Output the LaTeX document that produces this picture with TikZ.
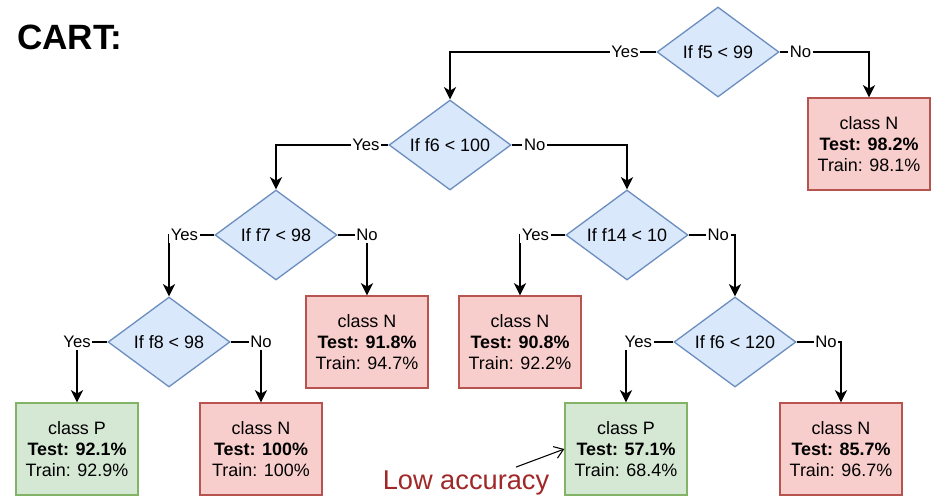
\documentclass[tikz,border=0pt]{standalone}
\usepackage{fontspec}
\setmainfont{Liberation Sans}
\usetikzlibrary{
	arrows.meta,
	shapes.geometric,
	positioning
}
\definecolor{CondBlue}{RGB}{218,232,252}
\definecolor{CondEdge}{RGB}{108,142,191}
\definecolor{LeafRed}{RGB}{248,206,204}
\definecolor{LeafRedEdge}{RGB}{184,84,80}
\definecolor{LeafGreen}{RGB}{213,232,212}
\definecolor{LeafGreenEdge}{RGB}{130,179,102}
\definecolor{LowRed}{RGB}{160,40,40}

\begin{document}
\begin{tikzpicture}[x=0.02cm,y=-0.02cm,font=\fontsize{10.2}{12}\selectfont,
		cond/.style={diamond,draw=CondEdge,fill=CondBlue,line width=0.75pt,inner sep=0pt,
			aspect=1.35,minimum width=2.44cm,minimum height=1.8cm},
		leafN/.style={rectangle,draw=LeafRedEdge,fill=LeafRed,line width=0.75pt,align=center,
			minimum width=2.44cm,minimum height=1.84cm},
		leafP/.style={leafN,draw=LeafGreenEdge,fill=LeafGreen},
		edge/.style={line width=0.75pt,-{Stealth[length=7pt,width=7pt,inset=2pt]}},
		ans/.style={fill=white,inner sep=1pt,font=\fontsize{9.5}{11}\selectfont}]
			\useasboundingbox (0,0) rectangle (936,498);
			\node[font=\fontsize{20}{24}\selectfont\bfseries,anchor=west] (title) at (11,37) {CART:};
			
			\node[cond] (f5) at (718,52) {If f5 < 99};
			\node[cond] (f6) at (450,145) {If f6 < 100};
			\node[cond] (f7) at (276,235) {If f7 < 98};
			\node[cond] (f8) at (169,342) {If f8 < 98};
			\node[cond] (f14) at (627,235) {If f14 < 10};
			\node[cond] (f6b) at (735,342) {If f6 < 120};
			
			\node[leafN] (n1) at (869,144) {class N\\\textbf{Test: 98.2\%}\\Train: 98.1\%};
			\node[leafN] (n2) at (367,342) {class N\\\textbf{Test: 91.8\%}\\Train: 94.7\%};
			\node[leafN] (n3) at (520,342) {class N\\\textbf{Test: 90.8\%}\\Train: 92.2\%};
			\node[leafP] (p1) at (77,449) {class P\\\textbf{Test: 92.1\%}\\Train: 92.9\%};
			\node[leafN] (n4) at (261,449) {class N\\\textbf{Test: 100\%}\\Train: 100\%};
			\node[leafP] (p2) at (626,449) {class P\\\textbf{Test: 57.1\%}\\Train: 68.4\%};
			\node[leafN] (n5) at (841,449) {class N\\\textbf{Test: 85.7\%}\\Train: 96.7\%};
			
			\draw[edge] (f5.west) -| node[ans,pos=0.076] {Yes} (f6.north);
			\draw[edge] (f5.east) -| node[ans,pos=0.117] {No} (n1.north);
			\draw[edge] (f6.west) -| node[ans,pos=0.1] {Yes} (f7.north);
			\draw[edge] (f6.east) -| node[ans,pos=0.1] {No} (f14.north);
			\draw[edge] (f7.west) -| node[ans,pos=0.33] {Yes} (f8.north);
			\draw[edge] (f7.east) -| node[ans,pos=0.5] {No} (n2.north);
			\draw[edge] (f8.west) -| node[ans,pos=0.5] {Yes} (p1.north);
			\draw[edge] (f8.east) -| node[ans,pos=0.5] {No} (n4.north);
			\draw[edge] (f14.west) -| node[ans,pos=0.33] {Yes} (n3.north);
			\draw[edge] (f14.east) -| node[ans,pos=0.32] {No} (f6b.north);
			\draw[edge] (f6b.west) -| node[ans,pos=0.37] {Yes} (p2.north);
			\draw[edge] (f6b.east) -| node[ans,pos=0.33] {No} (n5.north);
			
			\node[LowRed,font=\fontsize{15.5}{18}\selectfont] (low) at (466,483) {Low accuracy};
			\draw[line width=0.6pt,-{Straight Barb[length=5pt,width=7pt]}] ([xshift=1cm,yshift=-0.05cm]low.north) -- (p2.west);
		\end{tikzpicture}
\end{document}
